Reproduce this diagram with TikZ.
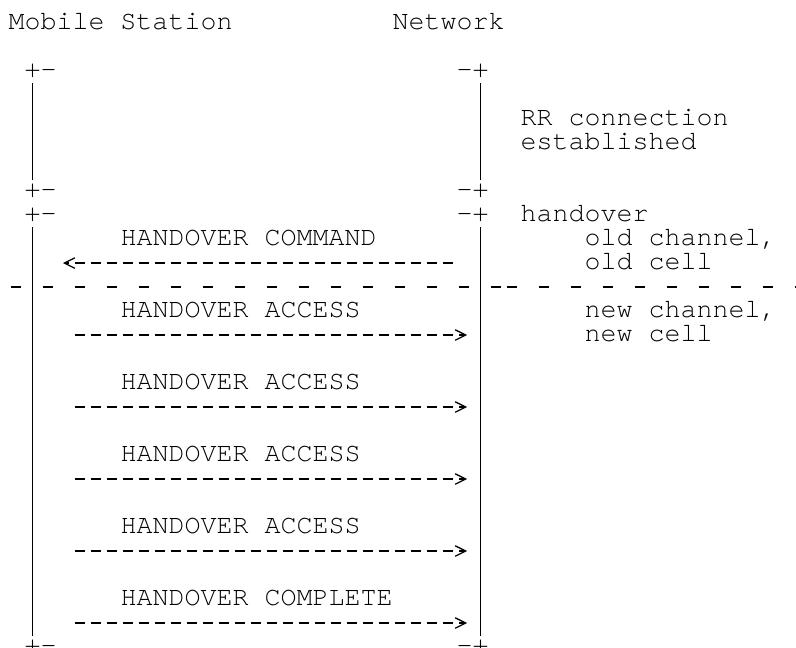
\documentclass[tikz,border=0pt]{standalone}
\usepackage{fontspec}
\usepackage{tikz}
\usetikzlibrary{arrows.meta}
\newfontfamily\cursorfont{texgyrecursor-regular.otf}
\newcommand{\asciitext}{\cursorfont\fontsize{26.67pt}{24pt}\selectfont}

\begin{document}
\begin{tikzpicture}[
    x=16pt, y=-24pt,
    lbl/.style={anchor=base west, inner sep=0pt, font=\asciitext},
    life/.style={line width=1.25pt},
    msg/.style={line width=1.25pt, dash pattern=on 10pt off 6pt,
                -{Straight Barb[length=10.5pt, width=10.5pt, sep=3pt]}},
    divider/.style={line width=1.25pt, dash pattern=on 10pt off 22pt}
]
\useasboundingbox (-0.519,-0.229) rectangle (49.23,26.73);

% headings
\node[lbl] (ms) at (0,1) {Mobile Station};
\node[lbl] (net) at (24,1) {Network};

% RR connection established
\node[lbl] (msA) at (1,3) {+-};
\node[lbl] (netA) at (28,3) {-+};
\node[lbl] (msB) at (1,8) {+-};
\node[lbl] (netB) at (28,8) {-+};
\node[lbl] (rr) at (32,5) {RR connection};
\node[lbl] (est) at (32,6) {established};
\draw[life] ([xshift=8pt, yshift=-5.5pt]msA.base west) -- ([xshift=8pt, yshift=17.5pt]msB.base west);
\draw[life] ([xshift=24pt, yshift=-5.5pt]netA.base west) -- ([xshift=24pt, yshift=17.5pt]netB.base west);

% handover
\node[lbl] (msC) at (1,9) {+-};
\node[lbl] (netC) at (28,9) {-+};
\node[lbl] (msD) at (1,27) {+-};
\node[lbl] (netD) at (28,27) {-+};
\node[lbl] (ho) at (32,9) {handover};
\node[lbl] (oldch) at (36,10) {old channel,};
\node[lbl] (oldcell) at (36,11) {old cell};
\node[lbl] (newch) at (36,13) {new channel,};
\node[lbl] (newcell) at (36,14) {new cell};
\draw[life] ([xshift=8pt, yshift=-5.5pt]msC.base west) -- ([xshift=8pt, yshift=17.5pt]msD.base west);
\draw[life] ([xshift=24pt, yshift=-5.5pt]netC.base west) -- ([xshift=24pt, yshift=17.5pt]netD.base west);

% old / new channel
\draw[divider] (0.1875,11.73) -- (28.8125,11.73);
\draw[life, dash pattern=on 10pt off 6pt] (30.1875,11.73) -- (31.8125,11.73);
\draw[divider] (33.1875,11.73) -- (49.8,11.73);

% messages
\node[lbl] (hocmd) at (7,10) {HANDOVER COMMAND};
\node[lbl] (hoacc1) at (7,13) {HANDOVER ACCESS};
\node[lbl] (hoacc2) at (7,16) {HANDOVER ACCESS};
\node[lbl] (hoacc3) at (7,19) {HANDOVER ACCESS};
\node[lbl] (hoacc4) at (7,22) {HANDOVER ACCESS};
\node[lbl] (hocpl) at (7,25) {HANDOVER COMPLETE};

\coordinate (cmdS) at (27.8125,10.73);
\coordinate (cmdE) at (3.23,10.73);
\coordinate (acc1S) at (4.1875,13.73);
\coordinate (acc1E) at (28.86,13.73);
\coordinate (acc2S) at (4.1875,16.73);
\coordinate (acc2E) at (28.86,16.73);
\coordinate (acc3S) at (4.1875,19.73);
\coordinate (acc3E) at (28.86,19.73);
\coordinate (acc4S) at (4.1875,22.73);
\coordinate (acc4E) at (28.86,22.73);
\coordinate (cplS) at (4.1875,25.73);
\coordinate (cplE) at (28.86,25.73);

\draw[msg] (cmdS) -- (cmdE);
\draw[msg] (acc1S) -- (acc1E);
\draw[msg] (acc2S) -- (acc2E);
\draw[msg] (acc3S) -- (acc3E);
\draw[msg] (acc4S) -- (acc4E);
\draw[msg] (cplS) -- (cplE);
\end{tikzpicture}
\end{document}
